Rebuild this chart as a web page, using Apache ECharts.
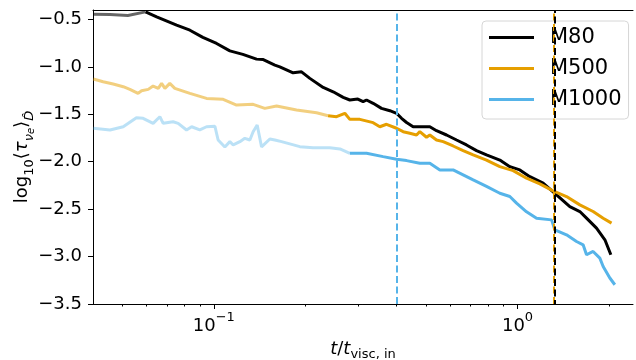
<!DOCTYPE html>
<html><head><meta charset="utf-8">
<script src="https://cdn.jsdelivr.net/npm/echarts@6/dist/echarts.min.js"></script>
<style>html,body{margin:0;padding:0;background:#fff}#c{width:636px;height:360px}</style>
</head><body><div id="c"></div>
<script>
const FONT = 'DejaVu Sans';
const seriesNames = ['M80', 'M500', 'M1000'];
const colors = ['#000000', '#E69F00', '#56B4E9'];
const fadedColors = ['rgba(0,0,0,0.6)', 'rgba(230,159,0,0.5)', 'rgba(86,180,233,0.4)'];

// [t / t_visc,in , log10 <tau>]
const m80Early = [[0.0400,-0.444],[0.0455,-0.447],[0.0521,-0.458],[0.0596,-0.420]];
const m80 = [[0.0596,-0.420],[0.0648,-0.473],[0.0754,-0.560],[0.0834,-0.613],[0.0920,-0.689],[0.1021,-0.753],
  [0.1129,-0.831],[0.1246,-0.868],[0.1382,-0.918],[0.1449,-0.921],[0.1588,-0.981],[0.1649,-0.999],[0.1824,-1.062],
  [0.1944,-1.052],[0.2071,-1.121],[0.2291,-1.216],[0.2471,-1.262],[0.2666,-1.321],[0.2804,-1.349],[0.2979,-1.339],
  [0.3101,-1.367],[0.3183,-1.349],[0.3346,-1.384],[0.3565,-1.437],[0.3798,-1.462],[0.3996,-1.489],[0.4150,-1.542],
  [0.4311,-1.586],[0.4531,-1.631],[0.5143,-1.631],[0.5410,-1.673],[0.5838,-1.718],[0.6298,-1.771],[0.6791,-1.823],
  [0.7328,-1.883],[0.7903,-1.928],[0.8744,-1.982],[0.9433,-2.052],[1.0176,-2.086],[1.0978,-2.157],[1.2143,-2.226],
  [1.3441,-2.349],[1.4865,-2.473],[1.6038,-2.525],[1.6872,-2.595],[1.8200,-2.700],[1.9394,-2.823],[2.0290,-2.981]];

const m500Early = [[0.0401,-1.128],[0.0432,-1.157],[0.0466,-1.181],[0.0503,-1.209],[0.0509,-1.192],[0.0529,-1.237],
  [0.0563,-1.279],[0.0578,-1.252],[0.0608,-1.237],[0.0631,-1.202],[0.0656,-1.226],[0.0673,-1.174],[0.0690,-1.226],
  [0.0716,-1.174],[0.0744,-1.226],[0.0834,-1.279],[0.0946,-1.332],[0.1073,-1.342],[0.1188,-1.402],[0.1347,-1.395],
  [0.1472,-1.437],[0.1609,-1.413],[0.1872,-1.455],[0.2179,-1.483],[0.2378,-1.515]];
const m500 = [[0.2378,-1.515],[0.2535,-1.525],[0.2700,-1.489],[0.2804,-1.553],[0.3025,-1.553],[0.3346,-1.588],
  [0.3520,-1.631],[0.3704,-1.605],[0.3996,-1.647],[0.4201,-1.683],[0.4418,-1.700],[0.4649,-1.718],[0.4767,-1.683],
  [0.5015,-1.742],[0.5143,-1.718],[0.5410,-1.771],[0.5689,-1.788],[0.6137,-1.834],[0.6621,-1.883],[0.7143,-1.928],
  [0.7903,-1.982],[0.8744,-2.052],[0.9671,-2.094],[1.0705,-2.174],[1.1840,-2.234],[1.3096,-2.307],[1.4496,-2.367],
  [1.6038,-2.455],[1.7739,-2.525],[1.9141,-2.595],[2.0397,-2.647]];

const m1000Early = [[0.0401,-1.647],[0.0455,-1.665],[0.0503,-1.631],[0.0556,-1.536],[0.0585,-1.542],[0.0631,-1.595],
  [0.0664,-1.525],[0.0681,-1.595],[0.0734,-1.578],[0.0763,-1.595],[0.0813,-1.665],[0.0845,-1.631],[0.0899,-1.665],
  [0.0946,-1.631],[0.1008,-1.626],[0.1033,-1.771],[0.1087,-1.844],[0.1129,-1.788],[0.1158,-1.823],[0.1218,-1.788],
  [0.1265,-1.753],[0.1314,-1.771],[0.1347,-1.683],[0.1389,-1.613],[0.1436,-1.844],[0.1529,-1.760],[0.1588,-1.771],
  [0.1671,-1.788],[0.1919,-1.841],[0.2123,-1.852],[0.2409,-1.852],[0.2601,-1.865],[0.2804,-1.911]];
const m1000 = [[0.2804,-1.911],[0.3183,-1.911],[0.3609,-1.946],[0.3996,-1.974],[0.4311,-1.988],[0.4767,-2.016],
  [0.5143,-2.016],[0.5549,-2.086],[0.6137,-2.086],[0.6621,-2.139],[0.7143,-2.192],[0.7903,-2.260],[0.8744,-2.332],
  [0.9433,-2.367],[0.9924,-2.437],[1.0705,-2.528],[1.1551,-2.597],[1.2941,-2.613],[1.3269,-2.718],[1.4496,-2.771],
  [1.5640,-2.841],[1.6444,-2.876],[1.6872,-2.981],[1.7739,-2.946],[1.8664,-3.016],[1.9141,-3.104],[2.0136,-3.226],
  [2.0913,-3.297]];

const xMin = 0.04, xMax = 2.4;
const yMin = -3.5, yMax = -0.4;
const xMajorTicks = [0.1, 1];
const xMinorTicks = [0.05, 0.06, 0.07, 0.08, 0.09, 0.2, 0.3, 0.4, 0.5, 0.6, 0.7, 0.8, 0.9, 2];
const yTicks = [-3.5, -3.0, -2.5, -2.0, -1.5, -1.0, -0.5];
const vLineT = [0.40, 1.318, 1.330];
const vLineColors = ['#56B4E9', '#E69F00', '#000000'];

const earlyData = [m80Early, m500Early, m1000Early];
const mainData = [m80, m500, m1000];

const series = [];
for (let i = 0; i < 3; i++) {
  series.push({ name: seriesNames[i] + ' early', type: 'line', data: earlyData[i], showSymbol: false, symbol: 'none',
    lineStyle: { color: fadedColors[i], width: 3 }, itemStyle: { color: fadedColors[i] }, z: 2 + i, silent: true });
  series.push({ name: seriesNames[i], type: 'line', data: mainData[i], showSymbol: false, symbol: 'none',
    lineStyle: { color: colors[i], width: 3 }, itemStyle: { color: colors[i] }, z: 2 + i, silent: true });
}
// vertical dashed lines
vLineT.forEach((t, k) => {
  series.push({ name: 'vline' + k, type: 'line', data: [], z: 10, silent: true,
    markLine: { silent: true, symbol: ['none', 'none'], label: { show: false },
      lineStyle: { color: vLineColors[k], width: 2, type: [7, 3.5], dashOffset: k === 2 ? 3 : 0 },
      data: [{ xAxis: t }] } });
});

const axisLineStyle = { color: '#000', width: 1 };
const chart = echarts.init(document.getElementById('c'));
chart.setOption({
  animation: false,
  grid: { left: 93, right: 3, top: 10, bottom: 56, containLabel: false, outerBoundsMode: 'none' },
  xAxis: [
    { type: 'log', logBase: 10, min: xMin, max: xMax, position: 'bottom',
      name: '{i|t}{n|/}{i|t}{s|visc, in}', nameLocation: 'middle', nameGap: 33, nameMoveOverlap: false,
      nameTextStyle: { rich: {
        i: { fontFamily: FONT, fontSize: 18, fontStyle: 'italic', color: '#000', lineHeight: 24, verticalAlign: 'middle' },
        n: { fontFamily: FONT, fontSize: 18, color: '#000', lineHeight: 24, verticalAlign: 'middle' },
        s: { fontFamily: FONT, fontSize: 13, color: '#000', lineHeight: 13, verticalAlign: 'bottom' } } },
      axisLine: { show: true, lineStyle: axisLineStyle },
      axisTick: { show: true, length: 5, lineStyle: { color: '#000' }, customValues: xMajorTicks },
      axisLabel: { customValues: xMajorTicks, margin: 7,
        formatter: v => '{b|10}{s|' + String(Math.round(Math.log10(v))).replace('-', '−') + '}',
        rich: { b: { fontFamily: FONT, fontSize: 18, color: '#000', lineHeight: 24, verticalAlign: 'bottom' },
                s: { fontFamily: FONT, fontSize: 13, color: '#000', lineHeight: 24, verticalAlign: 'top' } } },
      splitLine: { show: false } },
    { type: 'log', logBase: 10, min: xMin, max: xMax, position: 'bottom',
      axisLine: { show: false },
      axisTick: { show: true, length: 2.5, lineStyle: { color: '#000' }, customValues: xMinorTicks },
      axisLabel: { show: false }, splitLine: { show: false } },
    { type: 'log', logBase: 10, min: xMin, max: xMax, position: 'top',
      axisLine: { show: true, lineStyle: axisLineStyle },
      axisTick: { show: false }, axisLabel: { show: false }, splitLine: { show: false } }
  ],
  yAxis: {
    type: 'value', min: yMin, max: yMax,
    name: '{n|log}{u|10}{n|⟨}{i|τ}{s|ν}{ss|e}{n|⟩}{s|D̂}', nameLocation: 'middle', nameRotate: 90, nameGap: 57,
    nameMoveOverlap: false,
    nameTextStyle: { rich: {
      n: { fontFamily: FONT, fontSize: 18, color: '#000', lineHeight: 28, verticalAlign: 'middle' },
      i: { fontFamily: FONT, fontSize: 18, fontStyle: 'italic', color: '#000', lineHeight: 28, verticalAlign: 'middle' },
      u: { fontFamily: FONT, fontSize: 13, color: '#000', lineHeight: 13, verticalAlign: 'bottom' },
      s: { fontFamily: FONT, fontSize: 13, fontStyle: 'italic', color: '#000', lineHeight: 13, verticalAlign: 'bottom' },
      ss: { fontFamily: FONT, fontSize: 10, fontStyle: 'italic', color: '#000', lineHeight: 8, verticalAlign: 'bottom' } } },
    axisLine: { show: true, lineStyle: axisLineStyle },
    axisTick: { show: true, length: 5, lineStyle: { color: '#000' }, customValues: yTicks },
    axisLabel: { customValues: yTicks, margin: 11, fontFamily: FONT, fontSize: 18, color: '#000',
      formatter: v => v.toFixed(1).replace('-', '−') },
    splitLine: { show: false }
  },
  legend: {
    data: seriesNames, orient: 'vertical', left: 482, top: 21,
    icon: 'rect', itemWidth: 45, itemHeight: 3, itemGap: 10,
    padding: [6, 7, 9, 7],
    backgroundColor: 'rgba(255,255,255,0.8)', borderColor: '#d6d6d6', borderWidth: 1, borderRadius: 4,
    textStyle: { fontFamily: FONT, fontSize: 21, color: '#000', lineHeight: 21, padding: [0, 0, 0, 11] },
    selectedMode: false
  },
  series: series
});
</script></body></html>
